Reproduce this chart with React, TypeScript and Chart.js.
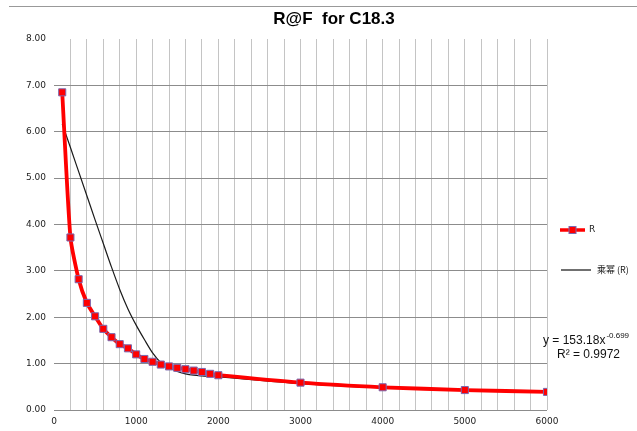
import React, { useEffect, useRef } from "react";
import { Chart, registerables } from "chart.js";

Chart.register(...registerables);

const xValues = [100, 200, 300, 400, 500, 600, 700, 800, 900, 1000, 1100, 1200, 1300, 1400, 1500, 1600, 1700, 1800, 1900, 2000, 3000, 4000, 5000, 6000];
const rValues = [6.85, 3.72, 2.82, 2.31, 2.02, 1.75, 1.57, 1.42, 1.33, 1.20, 1.10, 1.04, 0.98, 0.94, 0.91, 0.88, 0.85, 0.82, 0.78, 0.75, 0.59, 0.49, 0.43, 0.39];

const trendX = [100, 200, 300, 400, 500, 600, 700, 800, 900, 1000, 1100, 1200, 1300, 1400, 1500, 1600, 1700, 1800, 1900, 2000, 3000, 4000, 5000, 6000];
const trendY = [6.17, 5.66, 5.14, 4.62, 4.1, 3.59, 3.08, 2.6, 2.18, 1.83, 1.52, 1.23, 1.02, 0.91, 0.83, 0.78, 0.75, 0.735, 0.725, 0.715, 0.57, 0.48, 0.43, 0.38];

const titleText = "R@F  for C18.3";
const seriesName = "R";
const trendName = "乘幂 (R)";
const equationMain = "y = 153.18x";
const equationExp = "-0.699";
const rSquared = "R² = 0.9972";

export default function App() {
  const ref = useRef<HTMLCanvasElement | null>(null);

  useEffect(() => {
    document.body.style.margin = "0";
    const canvas = ref.current;
    if (!canvas) return;

    const overlay = {
      id: "overlay",
      afterDraw(chart: any) {
        const ctx = chart.ctx;
        const area = chart.chartArea;
        ctx.save();
        // top border
        ctx.strokeStyle = "#999999";
        ctx.lineWidth = 1;
        ctx.beginPath();
        ctx.moveTo(9, 6.5);
        ctx.lineTo(637, 6.5);
        ctx.stroke();
        // title
        ctx.fillStyle = "#000000";
        ctx.font = "bold 17px 'Liberation Sans', Arial, sans-serif";
        ctx.textAlign = "center";
        ctx.textBaseline = "middle";
        ctx.fillText(titleText, 334, 19);
        // legend
        const lx = area.right + 13;
        const y1 = 230;
        ctx.strokeStyle = "#ff0000";
        ctx.lineWidth = 3.5;
        ctx.beginPath();
        ctx.moveTo(lx, y1);
        ctx.lineTo(lx + 25, y1);
        ctx.stroke();
        ctx.fillStyle = "#ff0000";
        ctx.strokeStyle = "#7a68b0";
        ctx.lineWidth = 1;
        ctx.fillRect(lx + 9, y1 - 3.5, 7, 7);
        ctx.strokeRect(lx + 9, y1 - 3.5, 7, 7);
        ctx.fillStyle = "#222222";
        ctx.font = "9px 'DejaVu Sans', sans-serif";
        ctx.textAlign = "left";
        ctx.fillText(seriesName, lx + 29, y1);
        const y2 = 270;
        ctx.strokeStyle = "#111111";
        ctx.lineWidth = 1.2;
        ctx.beginPath();
        ctx.moveTo(lx + 1, y2);
        ctx.lineTo(lx + 31, y2);
        ctx.stroke();
        ctx.font = "9px 'Noto Sans CJK SC', sans-serif";
        ctx.fillText(trendName, lx + 37, y2);
        // equation
        ctx.fillStyle = "#111111";
        ctx.font = "12px 'Liberation Sans', Arial, sans-serif";
        ctx.fillText(equationMain, 543, 341);
        const w = ctx.measureText(equationMain).width;
        ctx.font = "8px 'Liberation Sans', Arial, sans-serif";
        ctx.fillText(equationExp, 543 + w + 1, 336);
        ctx.font = "12px 'Liberation Sans', Arial, sans-serif";
        ctx.fillText(rSquared, 557, 355);
        ctx.restore();
      },
    };

    const chart = new Chart(canvas, {
      type: "line",
      data: {
        datasets: [
          {
            label: seriesName,
            data: xValues.map((x, i) => ({ x, y: rValues[i] })),
            borderColor: "#ff0000",
            backgroundColor: "#ff0000",
            borderWidth: 3.8,
            pointStyle: "rect",
            pointRadius: 5,
            pointBorderColor: "#7a68b0",
            pointBorderWidth: 1,
            pointBackgroundColor: "#ff0000",
            tension: 0.2,
          },
          {
            label: trendName,
            data: trendX.map((x, i) => ({ x, y: trendY[i] })),
            borderColor: "#1a1a1a",
            borderWidth: 1.2,
            pointRadius: 0,
            cubicInterpolationMode: "monotone",
          },
        ],
      },
      options: {
        animation: false,
        responsive: true,
        maintainAspectRatio: false,
        layout: { padding: { top: 39, right: 90, left: 0, bottom: 0 } },
        plugins: {
          legend: { display: false },
          title: { display: false },
          tooltip: { enabled: false },
        },
        scales: {
          x: {
            type: "linear",
            min: 0,
            max: 6000,
            afterFit: (s: any) => {
              s.height = 21;
            },
            border: { display: false },
            grid: {
              drawTicks: false,
              color: (c: any) => (c.tick && c.tick.value === 0 ? "rgba(0,0,0,0)" : "#c4c4c4"),
              lineWidth: 1,
            },
            ticks: {
              stepSize: 200,
              autoSkip: false,
              maxRotation: 0,
              padding: 6,
              color: "#222222",
              font: { family: "'DejaVu Sans', sans-serif", size: 9 },
              callback: (v: any) => (Number(v) % 1000 === 0 ? String(v) : ""),
            },
          },
          y: {
            min: 0,
            max: 8,
            afterFit: (s: any) => {
              s.width = 54;
            },
            border: { display: false },
            grid: {
              drawTicks: false,
              color: (c: any) => (c.tick && c.tick.value === 8 ? "rgba(0,0,0,0)" : "#8c8c8c"),
              lineWidth: 1,
            },
            ticks: {
              stepSize: 1,
              padding: 8,
              color: "#222222",
              font: { family: "'DejaVu Sans', sans-serif", size: 9 },
              callback: (v: any) => Number(v).toFixed(2),
            },
          },
        },
      },
      plugins: [overlay],
    });

    return () => {
      chart.destroy();
    };
  }, []);

  return (
    <div style={{ position: "absolute", left: 0, top: 0, width: 637, height: 431 }}>
      <canvas ref={ref} />
    </div>
  );
}
